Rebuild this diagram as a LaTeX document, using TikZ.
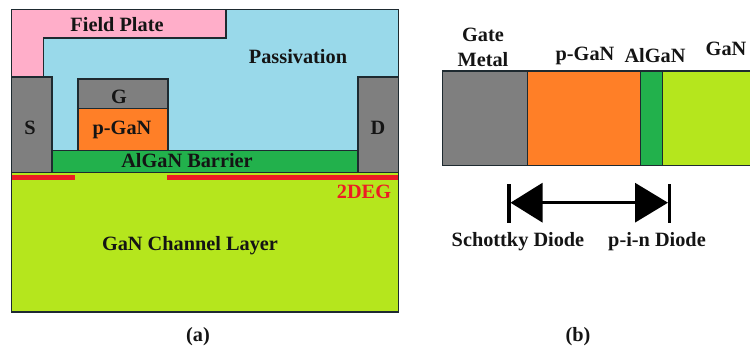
\documentclass[tikz,border=0pt]{standalone}
\usepackage{fontspec}
\setmainfont{Liberation Serif}
\usetikzlibrary{arrows.meta}
\definecolor{metalgray}{HTML}{7F7F7F}
\definecolor{pgan}{HTML}{FF7F27}
\definecolor{algan}{HTML}{22B14C}
\definecolor{gan}{HTML}{B5E61D}
\definecolor{plate}{HTML}{FFAEC9}
\definecolor{passiv}{HTML}{99D9EA}
\definecolor{deg}{HTML}{ED1C24}
\definecolor{edge}{HTML}{1E2A30}
\tikzset{
  x=1pt,y=-1pt,
  layer/.style={draw=edge,line width=1.3pt,anchor=north west,inner sep=0pt,outer sep=0pt},
  lbl/.style={font=\fontsize{20.3}{22}\selectfont\bfseries,text=black!92,inner sep=0pt},
  redline/.style={draw=deg,line width=4.2pt},
  bar/.style={draw=black,line width=3.3pt},
  span/.style={draw=black,line width=3.3pt,{Triangle[length=32pt,width=39pt]}-{Triangle[length=33pt,width=39pt]},shorten <=0.5pt,shorten >=0.5pt}
}
\newcommand{\boxat}[7]{\node[layer,fill=#1,minimum width=#4pt,minimum height=#5pt,#7] (#2) at (#3) {#6};}
\begin{document}
\begin{tikzpicture}
\useasboundingbox (0,0) rectangle (750,351);
% panel (a)
\boxat{passiv}{passivation}{11.5,9.5}{387}{163}{}{}
\draw[layer,fill=plate] (11.5,9.5) -- (226,9.5) -- (226,38) -- (43.5,38) -- (43.5,77) -- (11.5,77) -- cycle;
\boxat{gan}{channel}{11.5,172.5}{387}{139.5}{}{}
\boxat{metalgray}{source}{11.5,77}{40.5}{95.5}{}{}
\boxat{metalgray}{drain}{358,77}{40.5}{95.5}{}{}
\boxat{algan}{barrier}{52,150.5}{306}{22}{}{}
\boxat{metalgray}{gate}{78,79}{90}{29.5}{}{}
\boxat{pgan}{pgate}{78,108.5}{90}{42}{}{}
\coordinate (r1a) at (11.5,177.5);
\coordinate (r1b) at (74.5,177.5);
\coordinate (r2a) at (167,177.5);
\coordinate (r2b) at (398,177.5);
\draw[redline] (r1a) -- (r1b);
\draw[redline] (r2a) -- (r2b);
\node[lbl] (tfp) at (117,25) {Field Plate};
\node[lbl] (tpa) at (298,57) {Passivation};
\node[lbl] (tg) at (119,97) {G};
\node[lbl] (ts) at (30,128) {S};
\node[lbl] (td) at (378,128) {D};
\node[lbl] (tpg) at (122,130) {p-GaN};
\node[lbl] (tba) at (187,161) {AlGaN Barrier};
\node[lbl,text=deg] (t2d) at (364,192) {2DEG};
\node[lbl] (tch) at (190,246) {GaN Channel Layer};
\node[lbl] (ta) at (198,337) {(a)};
% panel (b)
\path[fill=metalgray] (442.5,71) rectangle (527.3,165.7);
\path[fill=pgan] (527.3,71) rectangle (640.7,165.7);
\path[fill=algan] (640.7,71) rectangle (662.7,165.7);
\path[fill=gan] (662.7,71) rectangle (750,165.7);
\draw[draw=edge,line width=1.3pt] (750,71) -- (442.5,71) -- (442.5,165.7) -- (750,165.7);
\draw[draw=edge,line width=1.3pt] (527.3,71) -- (527.3,165.7) (640.7,71) -- (640.7,165.7) (662.7,71) -- (662.7,165.7);
\coordinate (ltop) at (509,184);
\coordinate (lbot) at (509,223);
\coordinate (rtop) at (669.3,184);
\coordinate (rbot) at (669.3,223);
\coordinate (lmid) at (510,202.7);
\coordinate (rmid) at (668.5,202.7);
\draw[bar] (ltop) -- (lbot);
\draw[bar] (rtop) -- (rbot);
\draw[span] (lmid) -- (rmid);
\node[lbl] (tgm1) at (483,35) {Gate};
\node[lbl] (tgm2) at (483,60) {Metal};
\node[lbl] (tbp) at (585,56) {p-GaN};
\node[lbl] (tba2) at (655,56) {AlGaN};
\node[lbl] (tbg) at (726,49) {GaN};
\node[lbl] (tsd) at (518,242) {Schottky Diode};
\node[lbl] (tpn) at (657,242) {p-i-n Diode};
\node[lbl] (tb) at (578,337) {(b)};
\end{tikzpicture}
\end{document}
